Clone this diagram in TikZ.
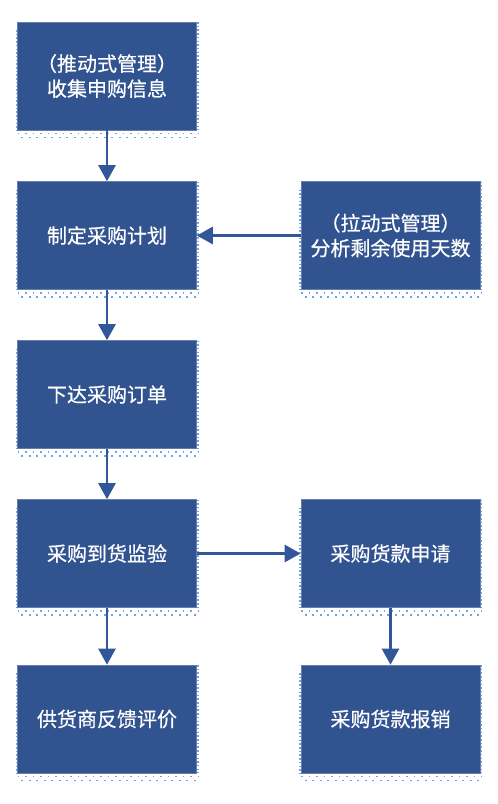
\documentclass[tikz,border=0pt]{standalone}
\usepackage{fontspec}
\newfontfamily\cjk[FakeBold=0.6]{Noto Sans CJK SC}
\usetikzlibrary{arrows.meta}
\definecolor{boxblue}{HTML}{31538F}
\definecolor{arrblue}{HTML}{32569A}
\definecolor{dotblue}{HTML}{6FA6E0}
\begin{document}
\begin{tikzpicture}[x=1pt,y=-1pt,
  box/.style={rectangle, fill=boxblue, draw=boxblue!75!white, line width=0.6pt,
    minimum width=179pt, minimum height=108pt, inner sep=0pt, text=white,
    font=\cjk\fontsize{20}{25}\selectfont, align=center},
  dotv/.style={dotblue, line width=1.5pt, dash pattern=on 1.5pt off 2.2pt},
  doth/.style={dotblue, line width=1.7pt, dash pattern=on 1.7pt off 5.8pt},
  arr/.style={arrblue, line width=2.5pt, -{Triangle[width=17pt,length=16pt]}}]
\useasboundingbox (0,0) rectangle (498,804);
\fill[white] (0,0) rectangle (498,804);
% shadows first
\foreach \cx/\cy in {107/76,107/235.5,107/394.5,107/553.5,107/719,390.5/235.5,390.5/553.5,390.5/719}{
  \draw[dotv] (\cx-90.5,\cy-46) -- (\cx-90.5,\cy+54);
  \draw[dotv] (\cx+91,\cy-54) -- (\cx+91,\cy+54);
  \draw[doth] (\cx-89.5,\cy+57.5) -- (\cx+91,\cy+57.5);
  \draw[doth, dash phase=3.7pt] (\cx-89.5,\cy+61.5) -- (\cx+91,\cy+61.5);
}
\node[box] (a) at (107,76) {（推动式管理）\\收集申购信息};
\node[box] (b) at (107,235.5) {制定采购计划};
\node[box] (c) at (107,394.5) {下达采购订单};
\node[box] (d) at (107,553.5) {采购到货监验};
\node[box] (e) at (107,719) {供货商反馈评价};
\node[box] (p) at (390.5,235.5) {（拉动式管理）\\分析剩余使用天数};
\node[box] (q) at (390.5,553.5) {采购货款申请};
\node[box] (r) at (390.5,719) {采购货款报销};
\draw[arr] (a.south) -- (b.north);
\draw[arr] (p.west) -- (b.east);
\draw[arr] (b.south) -- (c.north);
\draw[arr] (c.south) -- (d.north);
\draw[arr] (d.south) -- (e.north);
\draw[arr] (d.east) -- (q.west);
\draw[arr] (q.south) -- (r.north);
\end{tikzpicture}
\end{document}
